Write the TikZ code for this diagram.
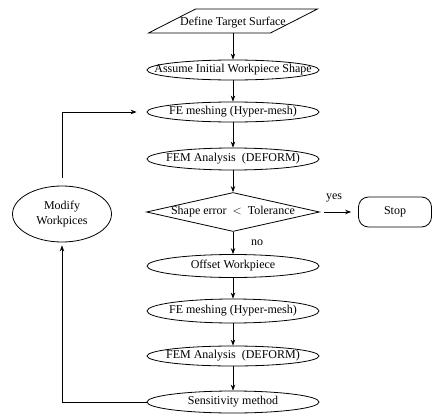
\documentclass[tikz,border=0pt]{standalone}
\usepackage{fontspec}
\setmainfont{Liberation Serif}
\usetikzlibrary{shapes.geometric,arrows.meta}
\begin{document}
\begin{tikzpicture}[x=1pt,y=-1pt,
  font=\fontsize{12}{14}\selectfont,
  every node/.style={inner sep=0pt},
  ell/.style={ellipse, draw, line width=0.8pt, minimum width=172pt, minimum height=22pt},
  para/.style={trapezium, draw, line width=0.8pt, trapezium left angle=27, trapezium right angle=153,
     trapezium stretches body, minimum width=169pt, text height=16pt, text depth=8pt},
  dia/.style={diamond, draw, line width=0.8pt, minimum width=173pt, minimum height=39pt},
  stopbox/.style={rectangle, rounded corners=10pt, draw, line width=0.8pt, minimum width=73pt, minimum height=30pt},
  arr/.style={line width=0.8pt, -{Stealth[length=6pt,width=4.5pt]}},
  ln/.style={line width=0.8pt}]
\useasboundingbox (0,0) rectangle (436,415);
\node[para] (def) at (233,21) {\makebox[0pt]{Define Target Surface}};
\node[ell, minimum height=20pt] (ass) at (233,70) {\makebox[0pt]{Assume Initial Workpiece Shape}};
\node[ell, minimum height=20pt] (fe1) at (233,112) {\makebox[0pt]{FE meshing (Hyper-mesh)}};
\node[ell] (fem1) at (233,159) {\makebox[0pt]{FEM Analysis \ (DEFORM)}};
\node[dia] (dec) at (233,212) {\makebox[0pt]{Shape error \ $<$ \ Tolerance}};
\node[stopbox] (stop) at (395,212) {Stop};
\node[ell, minimum height=23pt] (off) at (233,266) {\makebox[0pt]{Offset Workpiece}};
\node[ell, minimum height=24pt] (fe2) at (233,311) {\makebox[0pt]{FE meshing (Hyper-mesh)}};
\node[ell, minimum height=20pt] (fem2) at (233,356) {\makebox[0pt]{FEM Analysis \ (DEFORM)}};
\node[ell] (sens) at (233,402) {\makebox[0pt]{Sensitivity method}};
\node[ellipse, draw, line width=0.8pt, minimum width=99pt, minimum height=56pt, align=center] (mod) at (62,214) {Modify\\[1pt]Workpices};
\node (yes) at (334,198) {yes};
\node (no) at (257,243) {no};
\draw[arr] (def) -- (ass);
\draw[arr] (ass) -- (fe1);
\draw[arr] (fe1) -- (fem1);
\draw[arr] (fem1) -- (dec);
\draw[arr, shorten <=4pt, shorten >=7pt] (dec) -- (stop);
\draw[arr] (dec) -- (off);
\draw[arr] (off) -- (fe2);
\draw[arr] (fe2) -- (fem2);
\draw[arr] (fem2) -- (sens);
\draw[arr, shorten >=3pt] (sens) -| (mod);
\draw[arr, shorten <=8pt, shorten >=10pt] (mod) |- (fe1);
\end{tikzpicture}
\end{document}
